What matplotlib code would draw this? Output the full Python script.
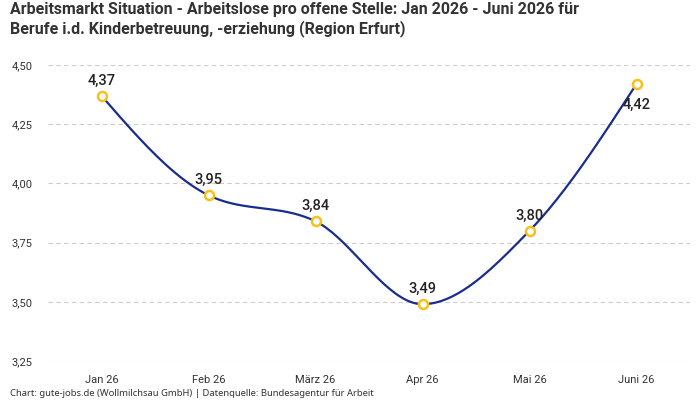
import numpy as np
import matplotlib.pyplot as plt

# Daten
monate = ["Jan 26", "Feb 26", "März 26", "Apr 26", "Mai 26", "Juni 26"]
werte = [4.37, 3.95, 3.84, 3.49, 3.80, 4.42]
y_ticks = [3.25, 3.50, 3.75, 4.00, 4.25, 4.50]

titel = ("Arbeitsmarkt Situation - Arbeitslose pro offene Stelle: Jan 2026 - Juni 2026 für\n"
         "Berufe i.d. Kinderbetreuung, -erziehung (Region Erfurt)")
quelle = "Chart: gute-jobs.de (Wollmilchsau GmbH) | Datenquelle: Bundesagentur für Arbeit"


def monotone_x(x, y, n=40):
    # monotone kubische Interpolation (wie d3 curveMonotoneX)
    x = np.asarray(x, float)
    y = np.asarray(y, float)
    h = np.diff(x)
    s = np.diff(y) / h
    t = np.zeros(len(x))
    for i in range(1, len(x) - 1):
        p = (s[i - 1] * h[i] + s[i] * h[i - 1]) / (h[i - 1] + h[i])
        t[i] = (np.sign(s[i - 1]) + np.sign(s[i])) * min(abs(s[i - 1]), abs(s[i]), 0.5 * abs(p))
    t[0] = (3 * s[0] - t[1]) / 2
    t[-1] = (3 * s[-1] - t[-2]) / 2
    xs, ys = [], []
    for i in range(len(x) - 1):
        u = np.linspace(0, 1, n)
        dx = h[i] / 3
        px = [x[i], x[i] + dx, x[i + 1] - dx, x[i + 1]]
        py = [y[i], y[i] + dx * t[i], y[i + 1] - dx * t[i + 1], y[i + 1]]
        b = [(1 - u) ** 3, 3 * (1 - u) ** 2 * u, 3 * (1 - u) * u ** 2, u ** 3]
        xs.append(sum(bb * p for bb, p in zip(b, px)))
        ys.append(sum(bb * p for bb, p in zip(b, py)))
    return np.concatenate(xs), np.concatenate(ys)


plt.rcParams['font.family'] = ['Roboto', 'DejaVu Sans']

fig = plt.figure(figsize=(7, 4), dpi=100)
ax = fig.add_axes([48 / 700, 1 - 361 / 400, 642 / 700, 296 / 400])

xi = np.arange(len(monate))
sx, sy = monotone_x(xi, werte)
ax.plot(sx, sy, color='#1a2d8c', lw=1.6, zorder=3)
ax.plot(xi, werte, 'o', ms=6.5, mfc='white', mec='#f5c21b', mew=1.8, zorder=4)

for i, v in enumerate(werte):
    label = f"{v:.2f}".replace('.', ',')
    dy = -15 if i == len(werte) - 1 else 11
    ax.annotate(label, (i, v), xytext=(0, dy), textcoords='offset points',
                ha='center', va='center', fontsize=10.5, fontweight='medium',
                color='#222222', zorder=5)

ax.set_xlim(-0.5, len(monate) - 0.5)
ax.set_ylim(3.25, 4.50)
ax.set_xticks(xi)
ax.set_xticklabels(monate, fontsize=8, color='#333333')
ax.set_yticks(y_ticks)
ax.set_yticklabels([f"{v:.2f}".replace('.', ',') for v in y_ticks], fontsize=8, color='#333333')
ax.tick_params(length=0, pad=10)
ax.tick_params(axis='y', pad=11)
ax.grid(axis='y', color='#cccccc', linestyle=(0, (4, 3)), lw=0.8)
for sp in ax.spines.values():
    sp.set_visible(False)

fig.text(10 / 700, 1 - 2 / 400, titel, ha='left', va='top', fontsize=11.5,
         fontweight='bold', color='#333333', linespacing=1.25)
fig.text(10 / 700, 1 - 393 / 400, quelle, ha='left', va='center', fontsize=6.8,
         color='#333333', family=['Noto Sans', 'DejaVu Sans'])

fig.savefig('out.png', dpi=100)
